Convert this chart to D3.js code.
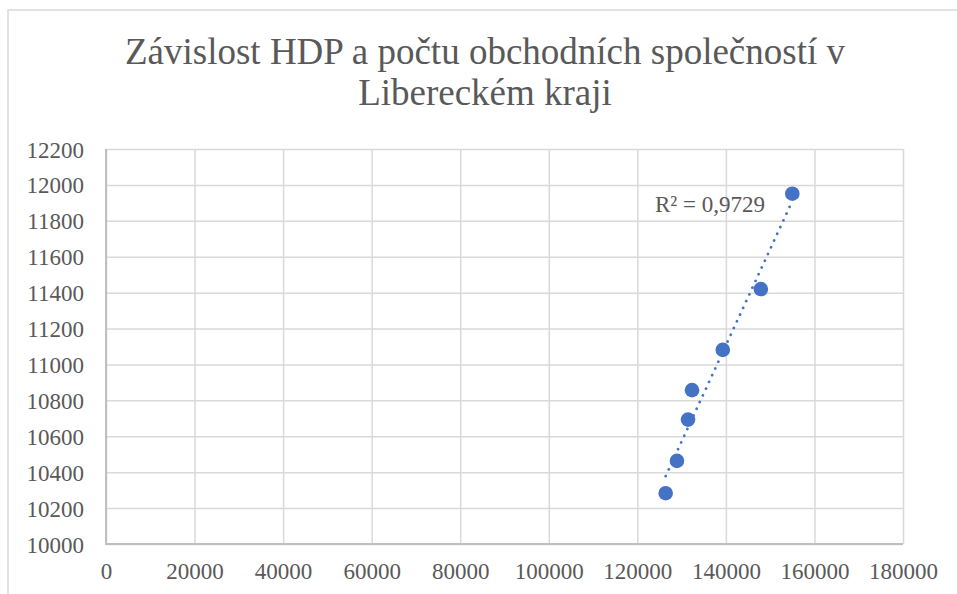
<!DOCTYPE html>
<html>
<head>
<meta charset="utf-8">
<script src="https://cdn.jsdelivr.net/npm/d3@7"></script>
<style>
  html, body { margin: 0; padding: 0; background: #fff; }
  svg { display: block; font-family: 'Liberation Serif', 'Times New Roman', serif; }
</style>
</head>
<body>
<svg id="chart" width="957" height="594"></svg>
<script>
// HDP (x) vs. počet obchodních společností (y)
const hdp = [126400, 128950, 131450, 132350, 139300, 147900, 155000]
const spolecnosti = [10283, 10463, 10693, 10857, 11081, 11420, 11951]
const titleLines = ['Závislost HDP a počtu obchodních společností v', 'Libereckém kraji']
const r2Label = 'R² = 0,9729'
const xTicks = d3.range(0, 180001, 20000)
const yTicks = d3.range(10000, 12201, 200)

const data = hdp.map((x, i) => ({ x, y: spolecnosti[i] }))

const svg = d3.select('#chart')
const plot = { left: 106, right: 903, top: 149, bottom: 544 }
const serif = "'Liberation Serif', 'Times New Roman', serif"

// chart frame
svg.append('path')
  .attr('d', 'M8,600 V10 H960')
  .attr('fill', 'none')
  .attr('stroke', '#d9d9d9')
  .attr('stroke-width', 1.5)

const title = svg.append('text')
  .attr('text-anchor', 'middle')
  .style('font-family', serif)
  .style('font-size', '37px')
  .style('fill', '#595959')
titleLines.forEach((t, i) => {
  title.append('tspan').attr('x', 485).attr('y', 64 + i * 41).text(t)
})

const xScale = d3.scaleLinear().domain([0, 180000]).range([plot.left, plot.right])
const yScale = d3.scaleLinear().domain([10000, 12200]).range([plot.bottom, plot.top])

const yAxis = d3.axisLeft(yScale)
  .tickValues(yTicks)
  .tickSize(-(plot.right - plot.left))
  .tickPadding(22)
  .tickFormat(d => d)

const xAxis = d3.axisBottom(xScale)
  .tickValues(xTicks)
  .tickSize(-(plot.bottom - plot.top))
  .tickPadding(19)
  .tickFormat(d => d)

function customAxis (g, axis) {
  g.call(axis)
  g.attr('font-family', null)
  g.select('.domain').remove()
  g.selectAll('.tick line')
    .style('stroke', '#d9d9d9')
    .style('stroke-width', 1.5)
  g.selectAll('.tick text')
    .style('font-family', serif)
    .style('font-size', '23px')
    .style('fill', '#595959')
}

svg.append('g')
  .attr('transform', `translate(${plot.left},0)`)
  .call(g => customAxis(g, yAxis))
  .selectAll('.tick text').attr('dy', '0.35em')

svg.append('g')
  .attr('transform', `translate(0,${plot.bottom})`)
  .call(g => customAxis(g, xAxis))
  .selectAll('.tick text').attr('dy', '0.71em')

// axis lines
svg.append('path')
  .attr('d', `M${plot.left},${plot.top} V${plot.bottom} H${plot.right}`)
  .attr('fill', 'none')
  .attr('stroke', '#bfbfbf')
  .attr('stroke-width', 2)

// linear trendline (least squares)
const mx = d3.mean(data, d => d.x)
const my = d3.mean(data, d => d.y)
const slope = d3.sum(data, d => (d.x - mx) * (d.y - my)) / d3.sum(data, d => (d.x - mx) ** 2)
const icpt = my - slope * mx
const xExt = d3.extent(data, d => d.x)
const trend = xExt.map(x => ({ x, y: icpt + slope * x }))

const trendLine = d3.line()
  .x(d => xScale(d.x))
  .y(d => yScale(d.y))

svg.append('path')
  .datum(trend)
  .attr('d', trendLine)
  .attr('fill', 'none')
  .attr('stroke', '#4472c4')
  .attr('stroke-width', 2.75)
  .attr('stroke-linecap', 'round')
  .attr('stroke-dasharray', '0.01 7.4')

svg.append('g')
  .selectAll('circle')
  .data(data)
  .join('circle')
  .attr('cx', d => xScale(d.x))
  .attr('cy', d => yScale(d.y))
  .attr('r', 7.3)
  .attr('fill', '#4472c4')

svg.append('text')
  .attr('x', 655)
  .attr('y', 212)
  .style('font-family', serif)
  .style('font-size', '23px')
  .style('fill', '#595959')
  .text(r2Label)
</script>
</body>
</html>
